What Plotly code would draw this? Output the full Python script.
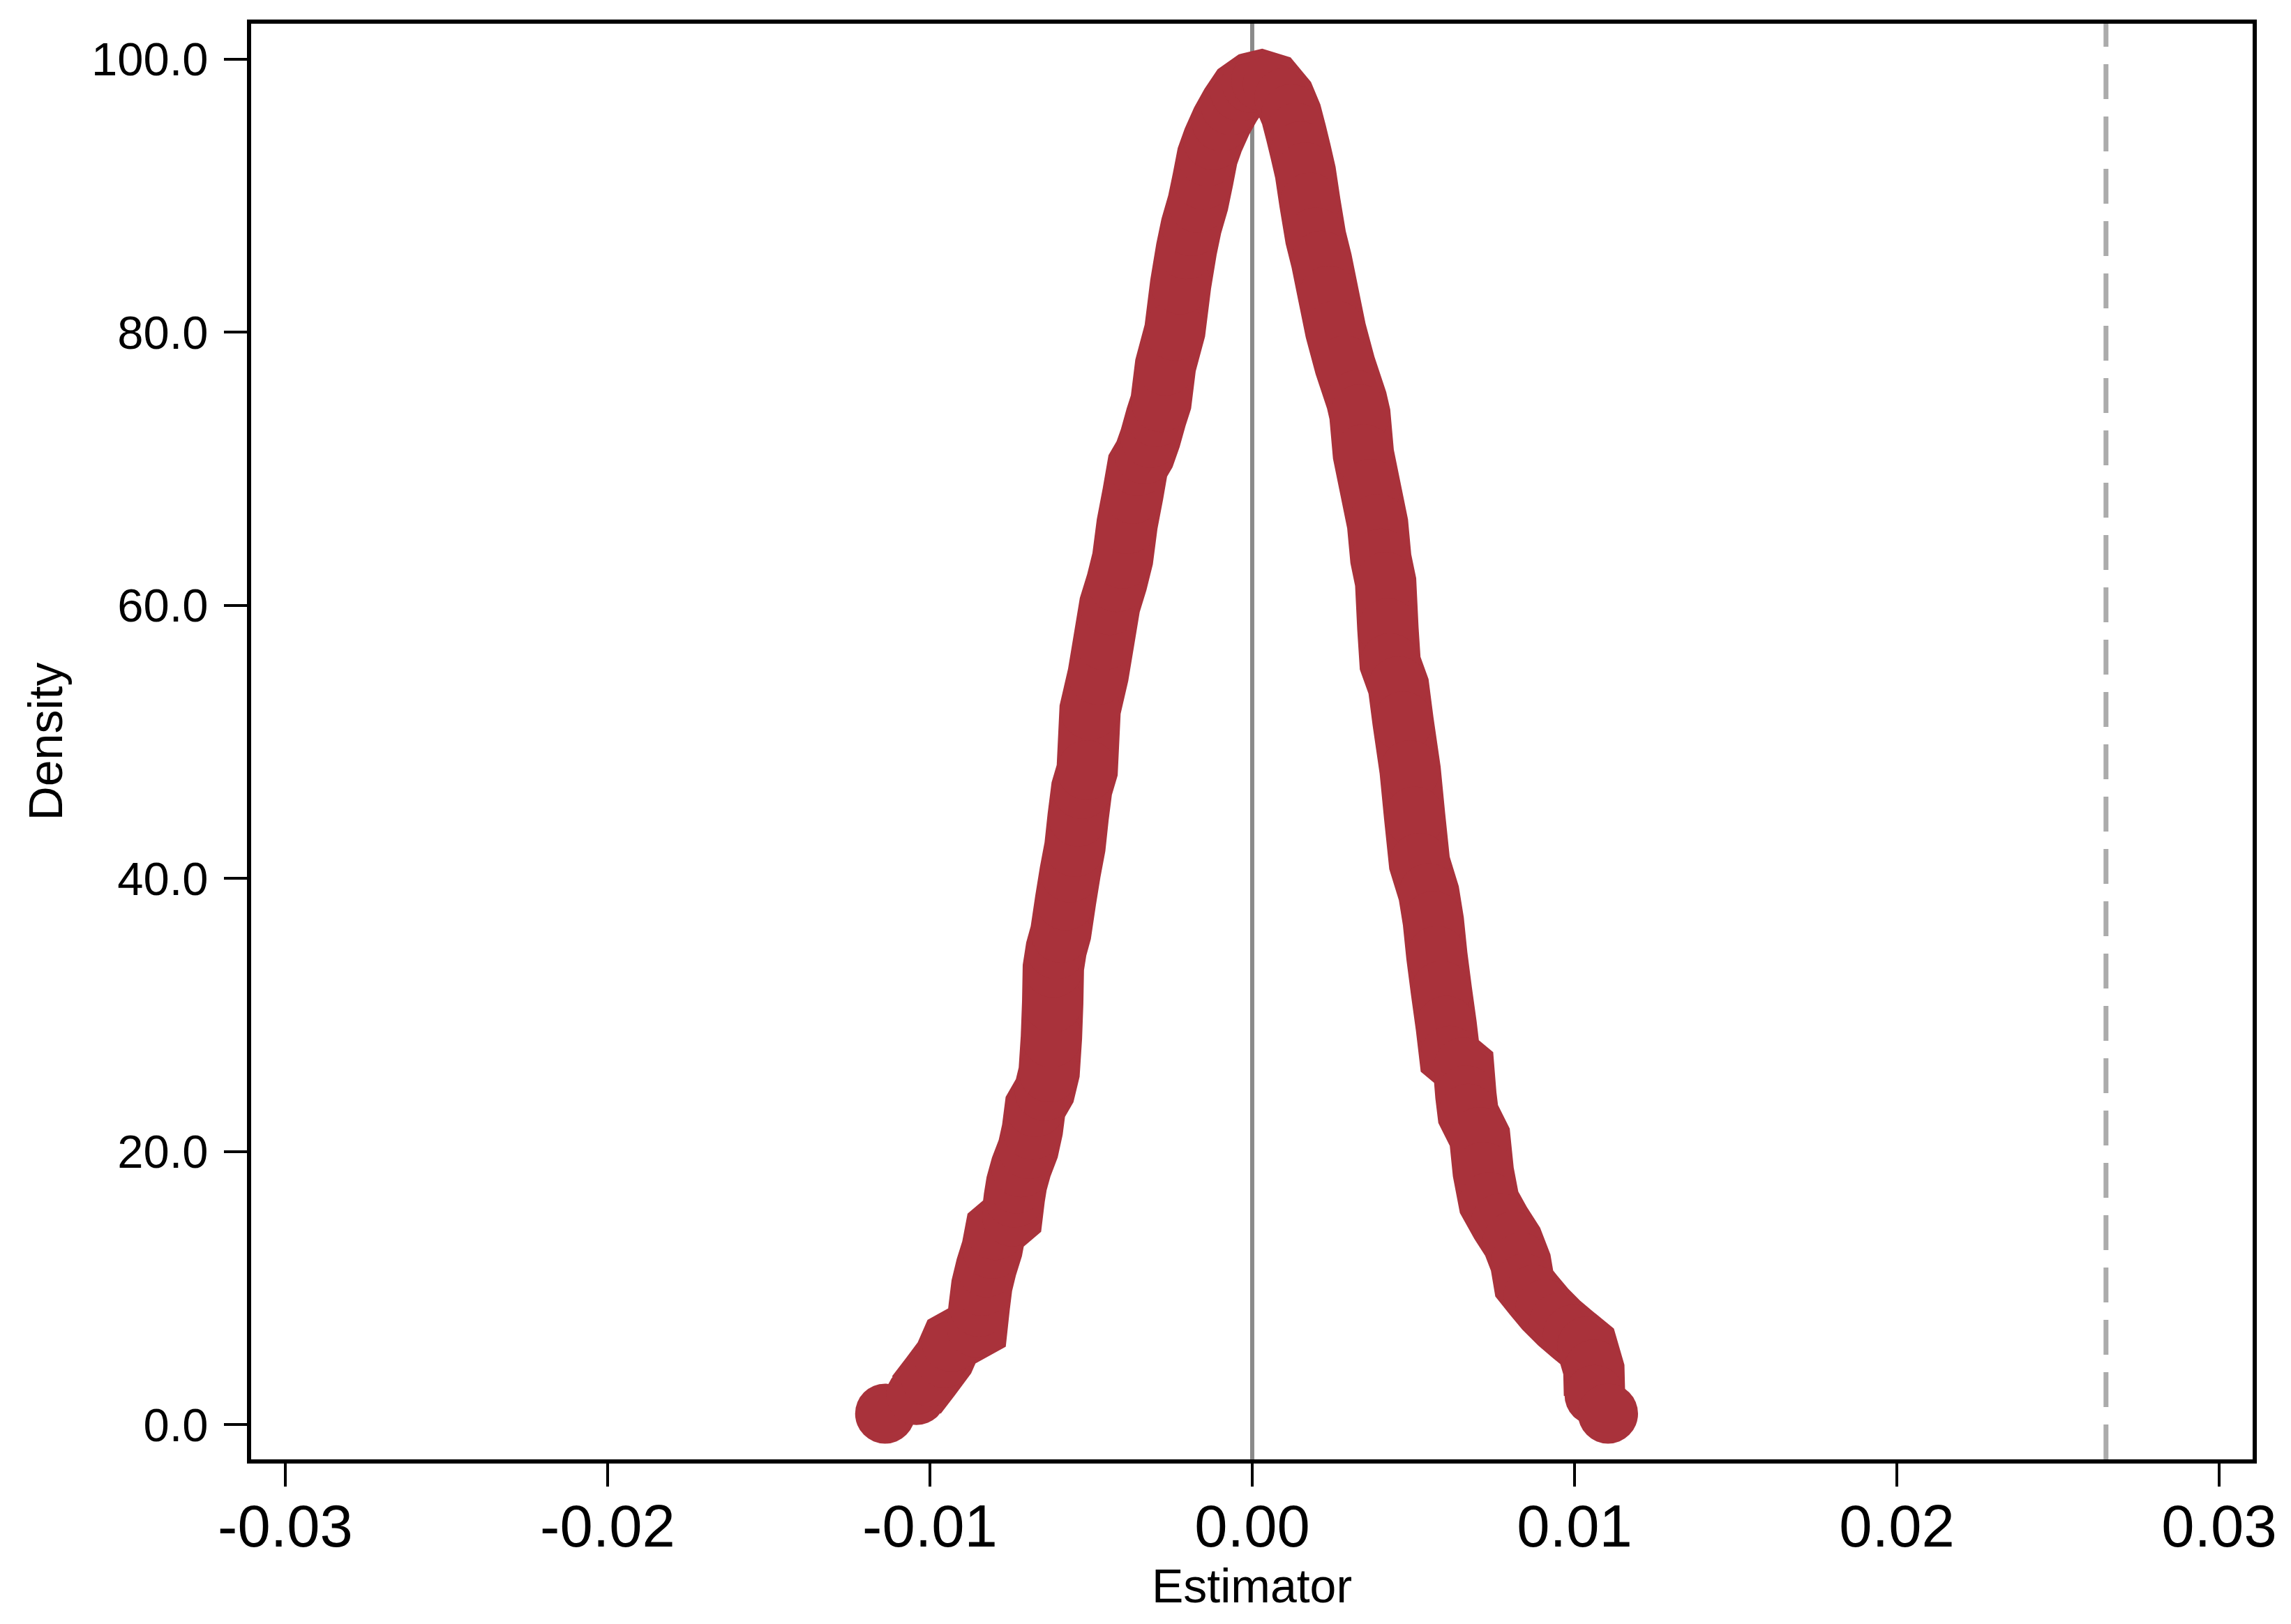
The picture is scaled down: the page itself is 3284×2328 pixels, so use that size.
import plotly.graph_objects as go

# density curve (estimator value, density)
estimator = [
    -0.01139, -0.01042, -0.00998, -0.00955, -0.00933, -0.00854, -0.00847, -0.00839,
    -0.00825, -0.00807, -0.00796, -0.00745, -0.00738, -0.00731, -0.00717, -0.00695,
    -0.00682, -0.00673, -0.00644, -0.00630, -0.00623, -0.00619, -0.00617, -0.00608,
    -0.00594, -0.00579, -0.00565, -0.00550, -0.00540, -0.00529, -0.00512, -0.00503,
    -0.00478, -0.00460, -0.00442, -0.00420, -0.00402, -0.00388, -0.00370, -0.00355,
    -0.00334, -0.00316, -0.00298, -0.00283, -0.00269, -0.00240, -0.00222, -0.00204,
    -0.00189, -0.00168, -0.00153, -0.00139, -0.00121, -0.00095, -0.00067, -0.00038,
    -0.00002, 0.00028, 0.00064, 0.00100, 0.00121, 0.00136, 0.00150, 0.00165,
    0.00179, 0.00197, 0.00215, 0.00237, 0.00259, 0.00288, 0.00324, 0.00334,
    0.00345, 0.00367, 0.00389, 0.00399, 0.00414, 0.00421, 0.00428, 0.00454,
    0.00468, 0.00490, 0.00504, 0.00519, 0.00548, 0.00562, 0.00573, 0.00587,
    0.00602, 0.00613, 0.00656, 0.00663, 0.00670, 0.00706, 0.00717, 0.00735,
    0.00771, 0.00808, 0.00833, 0.00844, 0.00873, 0.00909, 0.00952, 0.00995,
    0.01039, 0.01060, 0.01062, 0.01104,
]
density = [
    0.80, 2.16, 3.52, 4.88, 6.07, 7.10, 8.63, 10.16,
    11.52, 12.88, 14.24, 15.26, 16.63, 17.65, 18.84, 20.20,
    21.60, 23.26, 24.45, 25.81, 28.36, 30.92, 33.47, 34.83,
    36.02, 38.40, 40.44, 42.32, 44.53, 46.57, 47.93, 52.36,
    54.91, 57.46, 60.02, 61.71, 63.42, 65.97, 68.18, 70.22,
    71.07, 72.27, 73.80, 74.90, 77.57, 80.12, 83.52, 86.08,
    87.78, 89.49, 91.19, 92.90, 94.09, 95.46, 96.65, 97.67,
    98.27, 98.44, 98.18, 97.16, 95.97, 94.61, 93.25, 91.71,
    89.49, 86.94, 85.24, 82.68, 80.12, 77.57, 75.02, 73.99,
    71.07, 68.52, 65.97, 63.42, 61.71, 58.31, 55.76, 54.06,
    51.50, 47.93, 44.53, 41.13, 38.91, 36.87, 34.32, 31.77,
    29.21, 27.00, 26.15, 24.11, 22.75, 21.05, 18.50, 16.28,
    14.75, 13.39, 11.86, 10.33, 9.48, 8.46, 7.44, 6.58,
    5.73, 4.03, 2.16, 0.80,
]

x_ticks = [-0.03, -0.02, -0.01, 0.0, 0.01, 0.02, 0.03]
x_ticktext = ["-0.03", "-0.02", "-0.01", "0.00", "0.01", "0.02", "0.03"]
y_ticks = [0, 20, 40, 60, 80, 100]
y_ticktext = ["0.0", "20.0", "40.0", "60.0", "80.0", "100.0"]

true_value = 0.02649

RED = "#A9323B"
NAVY = "#1A476F"
FONT = "Liberation Sans, Arial, sans-serif"

fig = go.Figure()

# thin connecting line, only visible where markers don't overlap
fig.add_trace(go.Scatter(x=estimator, y=density, mode="lines",
                         line=dict(color=NAVY, width=3), hoverinfo="skip"))
# dense marker band
fig.add_trace(go.Scatter(x=estimator[1:-1], y=density[1:-1], mode="lines",
                         line=dict(color=RED, width=88, simplify=False), hoverinfo="skip"))
fig.add_trace(go.Scatter(x=estimator, y=density, mode="markers",
                         marker=dict(color=RED, size=86, line=dict(width=0))))

fig.add_shape(type="line", x0=0, x1=0, y0=0, y1=1, xref="x", yref="paper",
              line=dict(color="#8A8A8A", width=6), layer="below")
fig.add_shape(type="line", x0=true_value, x1=true_value, y0=0, y1=1, xref="x", yref="paper",
              line=dict(color="#ABABAB", width=7, dash="50px,25px"), layer="below")

fig.update_layout(
    width=3284, height=2328,
    margin=dict(l=352, r=63, t=26, b=244),
    plot_bgcolor="white", paper_bgcolor="white",
    showlegend=False,
    font=dict(family=FONT, color="black"),
)
fig.update_xaxes(
    range=[-0.03106, 0.03104], tickvals=x_ticks, ticktext=x_ticktext,
    showgrid=False, zeroline=False,
    showline=True, linecolor="black", linewidth=6, mirror=True,
    ticks="outside", ticklen=33, tickwidth=4, tickcolor="black",
    tickfont=dict(size=85, family=FONT, color="black"),
    ticklabelstandoff=-16,
    title=dict(text="Estimator", font=dict(size=68, family=FONT, color="black"), standoff=0),
)
fig.update_yaxes(
    range=[-2.55, 102.6], tickvals=y_ticks, ticktext=y_ticktext,
    showgrid=False, zeroline=False,
    showline=True, linecolor="black", linewidth=6, mirror=True,
    ticks="outside", ticklen=33, tickwidth=4, tickcolor="black",
    tickfont=dict(size=67, family=FONT, color="black"),
    ticklabelstandoff=9,
    title=dict(text="Density", font=dict(size=68, family=FONT, color="black"), standoff=21),
)

fig.write_html("out.html")
